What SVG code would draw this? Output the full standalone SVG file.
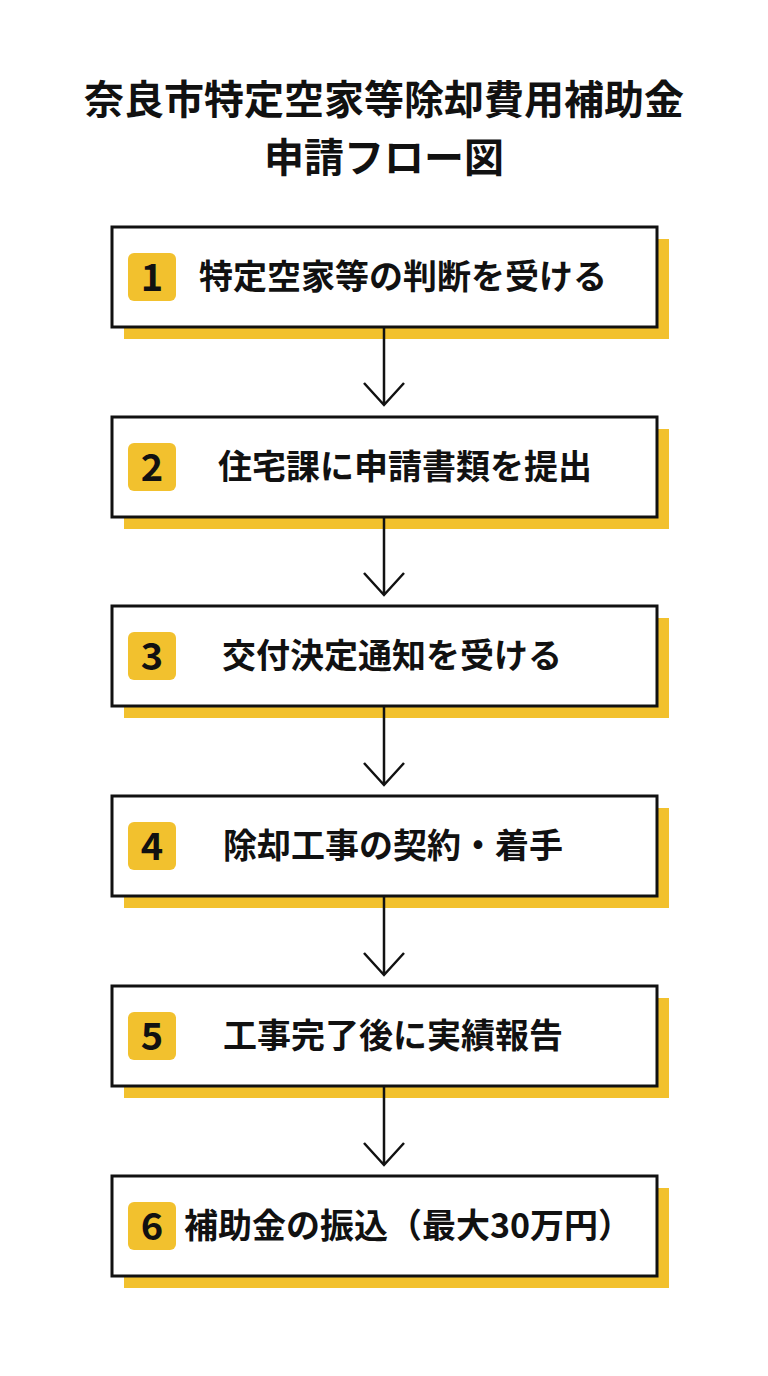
<svg xmlns="http://www.w3.org/2000/svg" width="768" height="1376" viewBox="0 0 768 1376">
<defs><style>
.sh{fill:#F2C12E}
.bx{fill:#fff;stroke:#111;stroke-width:3}
.bd{fill:#F2C12E}
.num{font-family:"Noto Sans CJK JP","Noto Sans",sans-serif;font-weight:700;font-size:38px;fill:#111;text-anchor:middle}
.lbl{font-family:"Noto Sans CJK JP",sans-serif;font-weight:700;font-size:34px;fill:#111;text-anchor:middle}
.ttl{font-family:"Noto Sans CJK JP",sans-serif;font-weight:700;font-size:40px;fill:#111;text-anchor:middle}
.cn{fill:none;stroke:#111;stroke-width:2.5}
</style></defs>
<rect width="768" height="1376" fill="#fff"/>
<g id="title"><text class="ttl" x="384" y="114">奈良市特定空家等除却費用補助金</text><text class="ttl" x="384" y="172">申請フロー図</text></g>
<g id="n1"><rect class="sh" x="124" y="239" width="545" height="100"/><rect class="bx" x="112" y="227" width="545" height="100"/><rect class="bd" x="128" y="253" width="48" height="48" rx="6"/><text class="num" x="152" y="291">1</text><text class="lbl" x="403" y="289">特定空家等の判断を受ける</text></g>
<g id="n2"><rect class="sh" x="124" y="429" width="545" height="100"/><rect class="bx" x="112" y="417" width="545" height="100"/><rect class="bd" x="128" y="443" width="48" height="48" rx="6"/><text class="num" x="152" y="481">2</text><text class="lbl" x="405" y="479">住宅課に申請書類を提出</text></g>
<g id="n3"><rect class="sh" x="124" y="618" width="545" height="100"/><rect class="bx" x="112" y="606" width="545" height="100"/><rect class="bd" x="128" y="632" width="48" height="48" rx="6"/><text class="num" x="152" y="670">3</text><text class="lbl" x="392" y="668">交付決定通知を受ける</text></g>
<g id="n4"><rect class="sh" x="124" y="808" width="545" height="100"/><rect class="bx" x="112" y="796" width="545" height="100"/><rect class="bd" x="128" y="822" width="48" height="48" rx="6"/><text class="num" x="152" y="860">4</text><text class="lbl" x="393" y="858">除却工事の契約・着手</text></g>
<g id="n5"><rect class="sh" x="124" y="998" width="545" height="100"/><rect class="bx" x="112" y="986" width="545" height="100"/><rect class="bd" x="128" y="1012" width="48" height="48" rx="6"/><text class="num" x="152" y="1050">5</text><text class="lbl" x="393" y="1048">工事完了後に実績報告</text></g>
<g id="n6"><rect class="sh" x="124" y="1188" width="545" height="100"/><rect class="bx" x="112" y="1176" width="545" height="100"/><rect class="bd" x="128" y="1202" width="48" height="48" rx="6"/><text class="num" x="152" y="1240">6</text><text class="lbl" x="408" y="1238">補助金の振込（最大30万円）</text></g>
<g id="connectors">
<path class="cn" d="M384 328V405M364 383L384 405L404 383"/>
<path class="cn" d="M384 518V595M364 573L384 595L404 573"/>
<path class="cn" d="M384 707V785M364 763L384 785L404 763"/>
<path class="cn" d="M384 897V975M364 953L384 975L404 953"/>
<path class="cn" d="M384 1087V1165M364 1143L384 1165L404 1143"/>
</g>
</svg>
